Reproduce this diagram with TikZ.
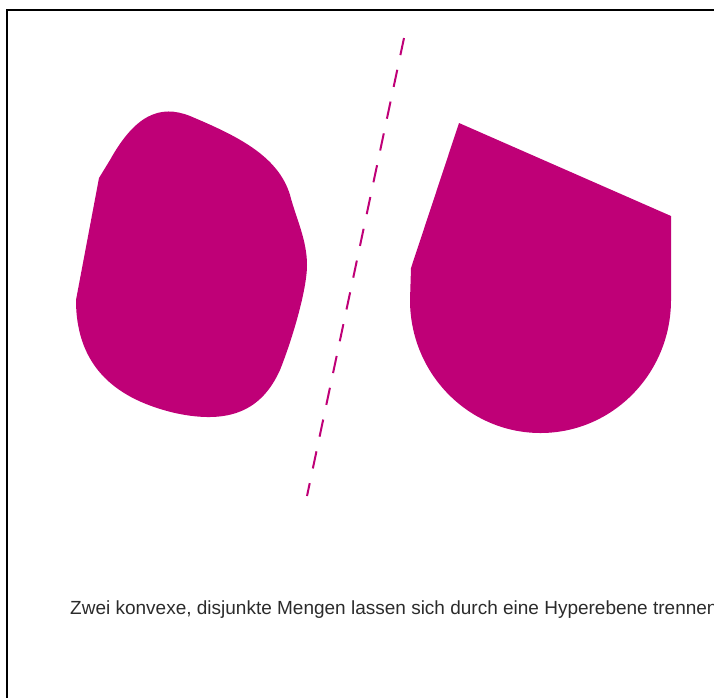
\documentclass[tikz,border=0pt]{standalone}
\usepackage{fontspec}
\setmainfont{Liberation Sans}
\usetikzlibrary{positioning}
\definecolor{mMagenta}{HTML}{BF0077}
\definecolor{mText}{HTML}{2B2B2B}

\begin{document}
\begin{tikzpicture}[x=1pt, y=-1pt,
    menge/.style={fill=mMagenta, draw=none},
    ebene/.style={mMagenta, line width=2pt, dash pattern=on 17.5pt off 15pt},
    rahmen/.style={black, line width=2pt}]
  \useasboundingbox (0,0) rectangle (714,697);
  \clip (0,0) rectangle (714,697);
  \draw[rahmen] (7,720) -- (7,10) -- (740,10);
  % linke Menge
  \fill[menge] (99,178) -- (76,300)
    .. controls (76,370) and (120,400) .. (175,413)
    .. controls (230,425) and (262,410) .. (280,370)
    .. controls (292,340) and (307,290) .. (307,265)
    .. controls (307,240) and (296,218) .. (290,195)
    .. controls (278,155) and (235,135) .. (190,116)
    .. controls (160,104) and (135,115) .. (110,160) -- cycle;
  % rechte Menge
  \fill[menge] (459,123) -- (671,216) -- (671,300)
    arc[start angle=0, end angle=180, x radius=130.5, y radius=133]
    -- (411,268) -- cycle;
  % Hyperebene
  \coordinate (h1) at (404,38);
  \coordinate (h2) at (307,496);
  \draw[ebene] (h1) -- (h2);
  \node[anchor=base west, inner sep=0pt, text=mText, font=\fontsize{19}{22}\selectfont]
    (satz) at (70,614) {Zwei konvexe, disjunkte Mengen lassen sich durch eine Hyperebene trennen};
\end{tikzpicture}
\end{document}
